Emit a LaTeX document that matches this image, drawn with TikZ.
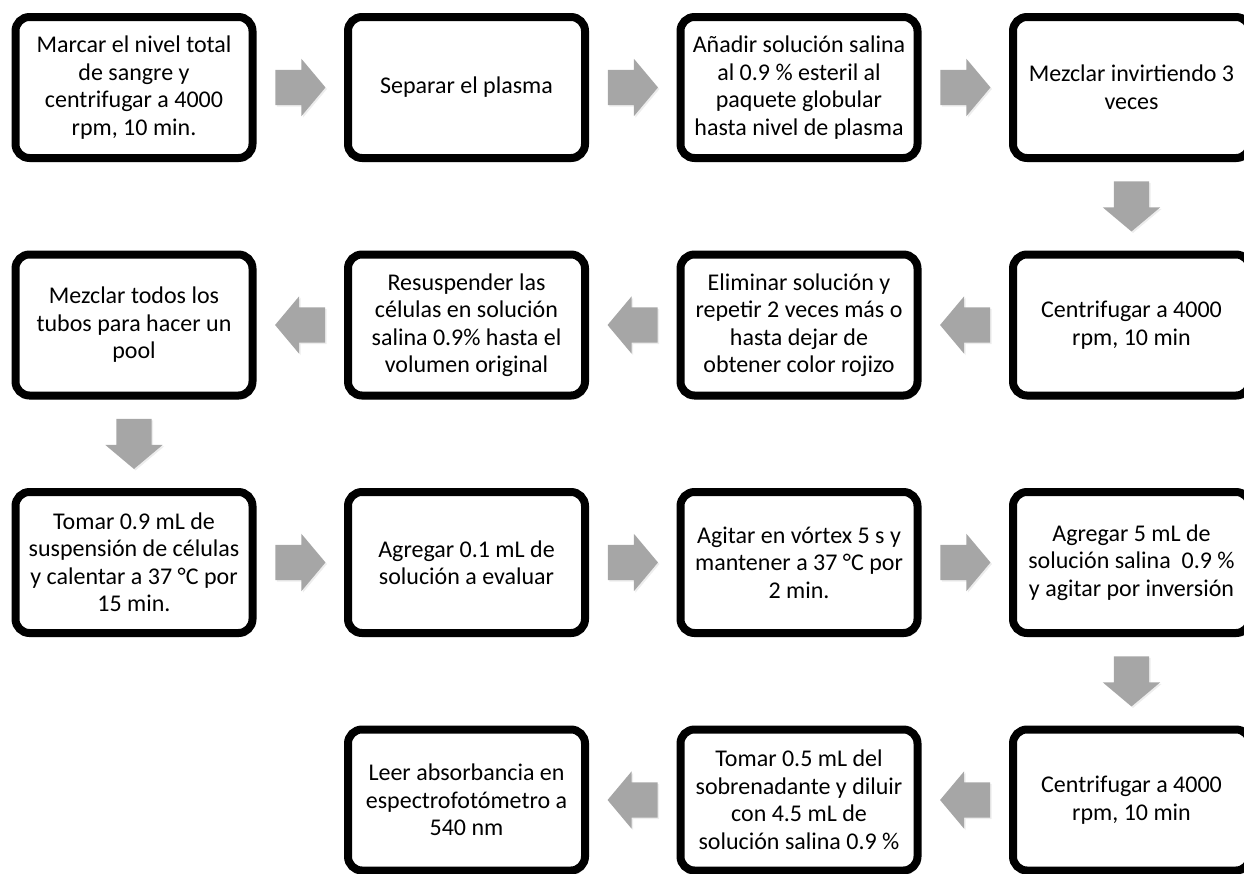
\documentclass[tikz,border=0pt]{standalone}
\usepackage{fontspec}
\setmainfont{Carlito}
\usetikzlibrary{calc,shapes.arrows,shadows}
\definecolor{flechagris}{HTML}{A6A6A6}
\tikzset{
  paso/.style={draw=black, line width=8pt, rounded corners=14pt, fill=white,
    minimum width=237pt, minimum height=141pt, align=center, inner sep=0pt,
    font=\fontsize{24}{27.5}\selectfont,
    drop shadow={shadow xshift=2pt, shadow yshift=-4pt, fill=black!30, opacity=.45}},
  flecha/.style={single arrow, fill=flechagris, draw=none, inner xsep=0pt, inner ysep=17.5pt,
    minimum height=50pt, single arrow head extend=11pt,
    single arrow tip angle=100, anchor=tail,
    drop shadow={shadow xshift=1.5pt, shadow yshift=-1.5pt, fill=black!20, opacity=.35}},
  flechaizq/.style={flecha, shape border rotate=180},
  flechaabajo/.style={flecha, shape border rotate=270, inner xsep=17.5pt, inner ysep=0pt}
}
\begin{document}
\begin{tikzpicture}[x=1pt,y=-1pt]
  \useasboundingbox (0,0) rectangle (1244,873);
  \node[paso] (p1) at (134,87.5) {Marcar el nivel total\\de sangre y\\centrifugar a 4000\\rpm, 10 min.};
  \node[paso] (p2) at (466.5,87.5) {Separar el plasma};
  \node[paso] (p3) at (799,87.5) {Añadir solución salina\\al 0.9 \% esteril al\\paquete globular\\hasta nivel de plasma};
  \node[paso] (p4) at (1131.5,87.5) {Mezclar invirtiendo 3\\veces};
  \node[paso] (p5) at (1131.5,325) {Centrifugar a 4000\\rpm, 10 min};
  \node[paso] (p6) at (799,325) {Eliminar solución y\\repetir 2 veces más o\\hasta dejar de\\obtener color rojizo};
  \node[paso] (p7) at (466.5,325) {Resuspender las\\células en solución\\salina 0.9\% hasta el\\volumen original};
  \node[paso] (p8) at (134,325) {Mezclar todos los\\tubos para hacer un\\pool};
  \node[paso] (p9) at (134,562.5) {Tomar 0.9 mL de\\suspensión de células\\y calentar a 37 °C por\\15 min.};
  \node[paso] (p10) at (466.5,562.5) {Agregar 0.1 mL de\\solución a evaluar};
  \node[paso] (p11) at (799,562.5) {Agitar en vórtex 5 s y\\mantener a 37 °C por\\2 min.};
  \node[paso] (p12) at (1131.5,562.5) {Agregar 5 mL de\\solución salina~ 0.9 \%\\y agitar por inversión};
  \node[paso] (p13) at (1131.5,800) {Centrifugar a 4000\\rpm, 10 min};
  \node[paso] (p14) at (799,800) {Tomar 0.5 mL del\\sobrenadante y diluir\\con 4.5 mL de\\solución salina 0.9 \%};
  \node[paso] (p15) at (466.5,800) {Leer absorbancia en\\espectrofotómetro a\\540 nm};
  \node[flecha] (f1) at ($(p1.east)!0.5!(p2.west)+(-25,0)$) {};
  \node[flecha] (f2) at ($(p2.east)!0.5!(p3.west)+(-25,0)$) {};
  \node[flecha] (f3) at ($(p3.east)!0.5!(p4.west)+(-25,0)$) {};
  \node[flechaabajo] (f4) at ($(p4.south)!0.5!(p5.north)+(0,-25)$) {};
  \node[flechaizq] (f5) at ($(p5.west)!0.5!(p6.east)+(25,0)$) {};
  \node[flechaizq] (f6) at ($(p6.west)!0.5!(p7.east)+(25,0)$) {};
  \node[flechaizq] (f7) at ($(p7.west)!0.5!(p8.east)+(25,0)$) {};
  \node[flechaabajo] (f8) at ($(p8.south)!0.5!(p9.north)+(0,-25)$) {};
  \node[flecha] (f9) at ($(p9.east)!0.5!(p10.west)+(-25,0)$) {};
  \node[flecha] (f10) at ($(p10.east)!0.5!(p11.west)+(-25,0)$) {};
  \node[flecha] (f11) at ($(p11.east)!0.5!(p12.west)+(-25,0)$) {};
  \node[flechaabajo] (f12) at ($(p12.south)!0.5!(p13.north)+(0,-25)$) {};
  \node[flechaizq] (f13) at ($(p13.west)!0.5!(p14.east)+(25,0)$) {};
  \node[flechaizq] (f14) at ($(p14.west)!0.5!(p15.east)+(25,0)$) {};
\end{tikzpicture}
\end{document}
